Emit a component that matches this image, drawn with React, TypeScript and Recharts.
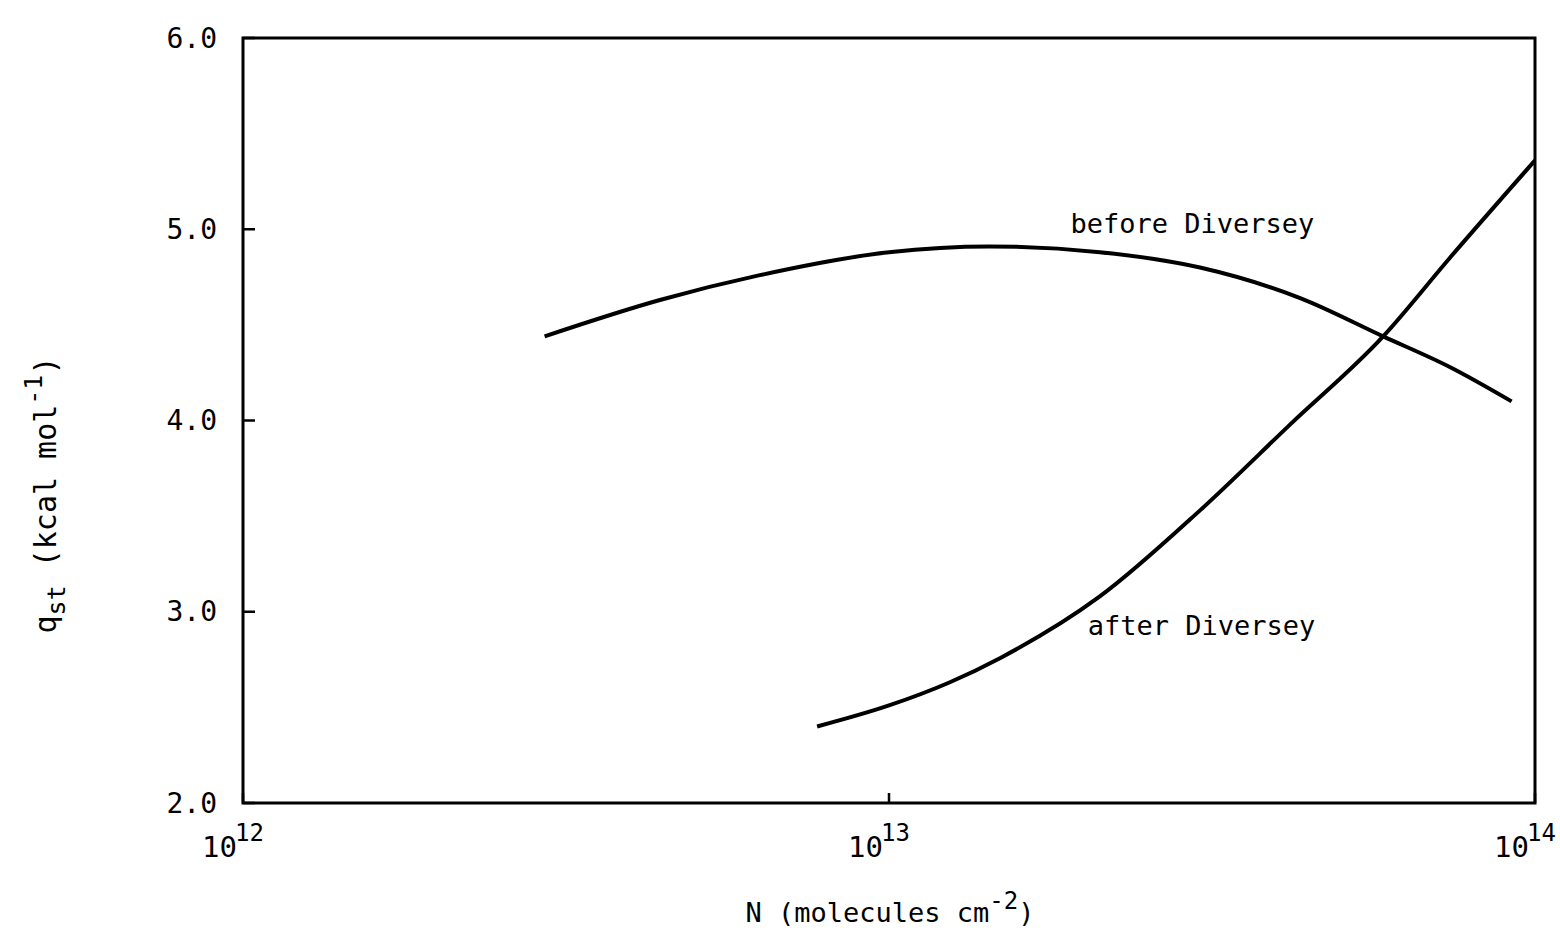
import { LineChart, Line, XAxis, YAxis, ReferenceArea, ReferenceDot } from 'recharts';

// isosteric heat of adsorption vs. surface coverage
const beforeN = [2.93e12, 4.42e12, 6.31e12, 1.0e13, 1.43e13, 2.12e13, 3.03e13, 4.33e13, 5.82e13, 7.38e13, 9.2e13];
const beforeQ = [4.44, 4.63, 4.76, 4.88, 4.91, 4.88, 4.8, 4.64, 4.44, 4.28, 4.1];

const afterN = [7.74e12, 1.0e13, 1.24e13, 1.49e13, 2.12e13, 3.03e13, 4.18e13, 5.82e13, 7.38e13, 1.0e14];
const afterQ = [2.4, 2.51, 2.63, 2.76, 3.08, 3.53, 3.98, 4.44, 4.85, 5.36];

const xTicks = [1e12, 1e13, 1e14];
const xTickExp = ['12', '13', '14'];
const yTicks = [2, 3, 4, 5, 6];

const beforeData = beforeN.map((n, i) => ({ n, q: beforeQ[i] }));
const afterData = afterN.map((n, i) => ({ n, q: afterQ[i] }));

const FONT = '"DejaVu Sans Mono", "Liberation Mono", monospace';

const YTick = ({ x, y, payload }: any) => (
  <g>
    <line x1={x + 26} x2={x + 38} y1={y} y2={y} stroke="#000" strokeWidth={2.5} />
    <text x={x} y={y} textAnchor="end" dominantBaseline="central" fontFamily={FONT} fontSize={28} fill="#000">
      {payload.value.toFixed(1)}
    </text>
  </g>
);

const XTick = ({ x, y, payload }: any) => {
  const idx = xTicks.indexOf(payload.value);
  return (
    <g>
      <line x1={x} x2={x} y1={y - 30} y2={y - 40} stroke="#000" strokeWidth={2.5} />
      <text x={x - 10} y={y + 24} textAnchor="middle" fontFamily={FONT} fontSize={29} fill="#000">
        <tspan>10</tspan>
        <tspan dx={-2} dy={-16} fontSize={24}>{xTickExp[idx]}</tspan>
      </text>
    </g>
  );
};

const YTitle = () => (
  <text transform="translate(56, 495) rotate(-90)" textAnchor="middle" fontFamily={FONT} fontSize={30} fill="#000">
    <tspan>q</tspan>
    <tspan dy={9} fontSize={25}>st</tspan>
    <tspan dy={-9}>{'  (kcal mol'}</tspan>
    <tspan dy={-14} fontSize={25}>-1</tspan>
    <tspan dy={14}>)</tspan>
  </text>
);

const XTitle = () => (
  <text x={890} y={922} textAnchor="middle" fontFamily={FONT} fontSize={27} fill="#000">
    <tspan>N (molecules cm</tspan>
    <tspan dy={-13} fontSize={24}>-2</tspan>
    <tspan dy={13}>)</tspan>
  </text>
);

const CurveLabel = (text: string) => ({ viewBox }: any) => (
  <text x={viewBox.x} y={viewBox.y} dominantBaseline="central" fontFamily={FONT} fontSize={27} fill="#000">
    {text}
  </text>
);

export default function App() {
  return (
    <div style={{ position: 'absolute', left: 0, top: 0, width: 1560, height: 933, background: '#fff' }}>
      <LineChart width={1560} height={933} margin={{ top: 38, right: 25, bottom: 0, left: 0 }}>
        <XAxis
          dataKey="n"
          type="number"
          scale="log"
          domain={[1e12, 1e14]}
          ticks={xTicks}
          interval={0}
          allowDataOverflow
          height={130}
          tickSize={0}
          tickMargin={30}
          axisLine={false}
          tick={<XTick />}
          label={<XTitle />}
        />
        <YAxis
          type="number"
          domain={[2, 6]}
          ticks={yTicks}
          interval={0}
          width={243}
          tickSize={0}
          tickMargin={26}
          axisLine={false}
          tick={<YTick />}
          label={<YTitle />}
        />
        <ReferenceArea x1={1e12} x2={1e14} y1={2} y2={6} fill="none" stroke="#000" strokeWidth={3} />
        <Line
          data={beforeData}
          dataKey="q"
          type="monotone"
          stroke="#000"
          strokeWidth={4}
          dot={false}
          isAnimationActive={false}
        />
        <Line
          data={afterData}
          dataKey="q"
          type="monotone"
          stroke="#000"
          strokeWidth={4}
          dot={false}
          isAnimationActive={false}
        />
        <ReferenceDot x={1.91e13} y={5.03} r={0} stroke="none" label={CurveLabel('before Diversey')} />
        <ReferenceDot x={2.03e13} y={2.93} r={0} stroke="none" label={CurveLabel('after Diversey')} />
      </LineChart>
    </div>
  );
}
